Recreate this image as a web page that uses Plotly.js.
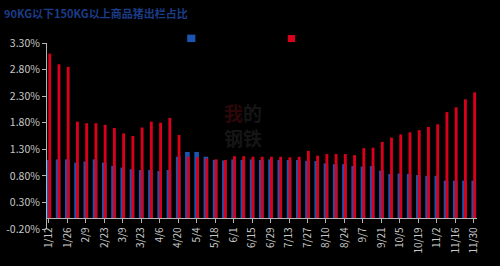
<!DOCTYPE html>
<html>
<head>
<meta charset="utf-8">
<script src="https://cdn.plot.ly/plotly-3.0.1.min.js"></script>
<style>
  html, body { margin: 0; padding: 0; background: #000; }
  #chart { width: 500px; height: 266px; }
</style>
</head>
<body>
<div id="chart"></div>
<script>
// Weekly share of hogs sold below 90 kg and above 150 kg (%)
const weeks = ['1/12','1/19','1/26','2/2','2/9','2/16','2/23','3/2','3/9','3/16',
  '3/23','3/30','4/6','4/13','4/20','4/27','5/4','5/11','5/18','5/25',
  '6/1','6/8','6/15','6/22','6/29','7/6','7/13','7/20','7/27','8/3',
  '8/10','8/17','8/24','8/31','9/7','9/14','9/21','9/28','10/5','10/12',
  '10/19','10/26','11/2','11/9','11/16','11/23','11/30'];

const under90 = [1.10, 1.11, 1.11, 1.05, 1.07, 1.11, 1.05, 0.99, 0.955, 0.925,
  0.91, 0.91, 0.89, 0.91, 1.16, 1.25, 1.25, 1.16, 1.10, 1.09,
  1.11, 1.10, 1.11, 1.10, 1.11, 1.10, 1.10, 1.10, 1.085, 1.08,
  1.035, 1.02, 1.02, 0.985, 0.975, 0.985, 0.90, 0.835, 0.845, 0.835,
  0.815, 0.80, 0.80, 0.71, 0.71, 0.71, 0.71];

const over150 = [3.10, 2.90, 2.85, 1.82, 1.79, 1.79, 1.76, 1.70, 1.60, 1.55,
  1.71, 1.82, 1.80, 1.89, 1.57, 1.16, 1.15, 1.13, 1.11, 1.10,
  1.17, 1.17, 1.16, 1.16, 1.16, 1.16, 1.15, 1.16, 1.27, 1.18,
  1.21, 1.21, 1.21, 1.19, 1.32, 1.33, 1.44, 1.52, 1.58, 1.62,
  1.66, 1.72, 1.77, 2.00, 2.09, 2.24, 2.37];

const seriesNames = ['90KG以下', '150KG以上'];
const yTicks = [-0.2, 0.3, 0.8, 1.3, 1.8, 2.3, 2.8, 3.3];

const BLUE = '#1c55b0';
const RED = '#d9001b';
const AXIS = '#b4b4b4';
const LABEL = '#c8c8c8';

const traces = [
  {
    type: 'bar', name: seriesNames[0], x: weeks, y: under90,
    width: 0.5, offset: -0.25,
    marker: { color: BLUE, line: { width: 0 } },
    hovertemplate: '%{x}: %{y:.2f}%<extra>' + seriesNames[0] + '</extra>'
  },
  {
    type: 'bar', name: seriesNames[1], x: weeks, y: over150,
    width: 0.31, offset: -0.06,
    marker: { color: RED, line: { width: 0 } },
    hovertemplate: '%{x}: %{y:.2f}%<extra>' + seriesNames[1] + '</extra>'
  }
];

const yMin = -0.2, yMax = 3.3;

const layout = {
  width: 500, height: 266,
  paper_bgcolor: '#000', plot_bgcolor: '#000',
  margin: { l: 47, r: 23, t: 43, b: 37 },
  barmode: 'overlay',
  showlegend: false,
  font: { family: '"Noto Sans CJK SC", "Noto Sans", sans-serif', color: LABEL },
  title: {
    text: '<b>90KG以下150KG以上商品猪出栏占比</b>',
    x: 0.008, xanchor: 'left', y: 0.945, yanchor: 'middle',
    font: { size: 11, color: '#1b3c88', family: '"Noto Sans CJK SC", sans-serif' }
  },
  xaxis: {
    type: 'category',
    range: [-0.2, 46.35],
    anchor: 'free',
    position: (0 - yMin) / (yMax - yMin),
    showline: true, linecolor: AXIS, linewidth: 1,
    ticks: 'outside', ticklen: 4, tickcolor: AXIS,
    tickvals: weeks.filter((_, i) => i % 2 === 0),
    ticktext: weeks.filter((_, i) => i % 2 === 0),
    tickangle: -90,
    tickfont: { size: 10, color: LABEL },
    showgrid: false, zeroline: false, fixedrange: true
  },
  yaxis: {
    range: [yMin, yMax],
    tickvals: yTicks,
    ticktext: yTicks.map(v => v.toFixed(2) + '%'),
    showline: true, linecolor: AXIS, linewidth: 1,
    ticks: 'outside', ticklen: 4, tickcolor: AXIS,
    tickfont: { size: 10.5, color: LABEL },
    showgrid: false, zeroline: false, fixedrange: true
  },
  shapes: [
    // legend keys
    { type: 'rect', xref: 'paper', yref: 'paper', x0: 0.326, x1: 0.345, y0: 1.005, y1: 1.045,
      fillcolor: BLUE, line: { width: 0 } },
    { type: 'rect', xref: 'paper', yref: 'paper', x0: 0.56, x1: 0.577, y0: 1.005, y1: 1.043,
      fillcolor: RED, line: { width: 0 } }
  ],
  annotations: [
    // faint brand mark in the middle of the plot
    { text: '<b><span style="color:#2c0709">我</span>的<br>钢铁</b>',
      xref: 'paper', yref: 'paper', x: 0.455, y: 0.56, showarrow: false,
      align: 'center',
      font: { size: 19, color: '#151515' } }
  ]
};

Plotly.newPlot('chart', traces, layout, { displayModeBar: false, staticPlot: true });
</script>
</body>
</html>
